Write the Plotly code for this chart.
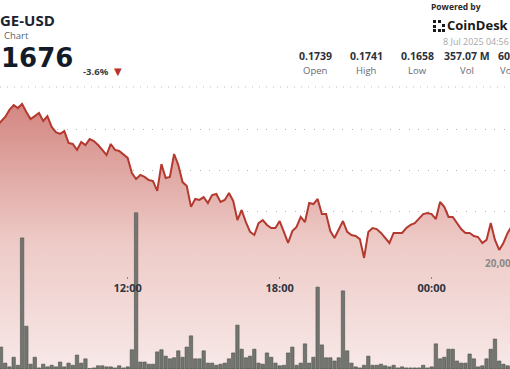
import plotly.graph_objects as go
import pandas as pd

# ---------------- data ----------------
price_start = "2025-07-07 06:50"
price_values = [
    0.17215, 0.17239, 0.17259, 0.17293, 0.17317, 0.17302, 0.17322, 0.17283, 0.17249, 0.17263,
    0.17278, 0.17239, 0.17263, 0.17210, 0.17185, 0.17176, 0.17190, 0.17132, 0.17127, 0.17098,
    0.17137, 0.17122, 0.17151, 0.17141, 0.17122, 0.17098, 0.17073, 0.17127, 0.17098, 0.17093,
    0.17078, 0.17059, 0.16985, 0.16956, 0.16976, 0.16966, 0.16951, 0.16946, 0.16898, 0.17029,
    0.16961, 0.16966, 0.17078, 0.17024, 0.16941, 0.16922, 0.16820, 0.16859, 0.16854, 0.16868,
    0.16839, 0.16878, 0.16883, 0.16844, 0.16854, 0.16888, 0.16849, 0.16756, 0.16805, 0.16746,
    0.16698, 0.16683, 0.16741, 0.16756, 0.16732, 0.16717, 0.16717, 0.16751, 0.16698, 0.16644,
    0.16702, 0.16722, 0.16771, 0.16746, 0.16839, 0.16834, 0.16859, 0.16785, 0.16785, 0.16702,
    0.16668, 0.16707, 0.16751, 0.16698, 0.16683, 0.16678, 0.16663, 0.16571, 0.16698, 0.16717,
    0.16712, 0.16693, 0.16668, 0.16644, 0.16693, 0.16693, 0.16693, 0.16717, 0.16732, 0.16741,
    0.16761, 0.16785, 0.16790, 0.16785, 0.16761, 0.16844, 0.16820, 0.16771, 0.16771, 0.16741,
    0.16712, 0.16693, 0.16693, 0.16678, 0.16673, 0.16644, 0.16659, 0.16741, 0.16659, 0.16610,
    0.16644, 0.16693, 0.16727,
]

volume_start = "2025-07-07 07:00"
volume_millions = [
    4.1, 1.1, 0.4, 2.2, 0.7, 24.5, 8.0, 0.9, 2.2, 0.2,
    0.9, 0.4, 0.7, 0.4, 1.3, 0.4, 1.1, 0.7, 2.6, 1.1,
    1.9, 0.1, 0.2, 0.6, 0.6, 0.4, 0.4, 0.2, 0.6, 0.2,
    0.4, 3.6, 29.2, 1.3, 1.3, 0.9, 0.9, 3.2, 3.6, 2.4,
    1.9, 2.1, 3.4, 2.2, 4.1, 6.2, 1.9, 1.9, 3.4, 1.1,
    1.1, 0.7, 0.9, 1.1, 1.9, 3.0, 8.2, 3.7, 2.1, 2.4,
    3.7, 1.1, 0.9, 3.0, 2.2, 1.1, 0.6, 0.7, 3.0, 4.1,
    0.7, 1.1, 4.7, 1.1, 2.2, 15.3, 4.5, 2.1, 2.1, 1.5,
    2.1, 14.6, 3.4, 1.1, 0.4, 0.2, 0.7, 2.4, 0.7, 0.7,
    0.9, 0.6, 0.4, 0.7, 0.2, 0.4, 0.2, 0.2, 0.2, 0.2,
    0.7, 0.2, 0.4, 4.7, 1.9, 2.2, 3.7, 3.7, 1.5, 1.1,
    1.1, 2.8, 1.9, 0.4, 0.6, 1.9, 3.7, 5.6, 1.5, 0.9,
    0.6, 0.4,
]

price_gridlines = [0.166, 0.168, 0.170, 0.172]
volume_gridlines = [20]
tick_times = ["2025-07-07 12:00", "2025-07-07 18:00", "2025-07-08 00:00"]

stat_values = ["0.1739", "0.1741", "0.1658", "357.07 M"]
stat_labels = ["Open", "High", "Low", "Vol"]
cut_value, cut_label = "60", "Vo"

price_times = pd.date_range(price_start, periods=len(price_values), freq="10min")
volume_times = pd.date_range(volume_start, periods=len(volume_millions), freq="10min")

# ---------------- figure ----------------
W, H = 510, 369
FONT = "Open Sans"
PLOT_TOP = 88

def py(px):
    return 1 - px / H

def pxx(px):
    return px / W

y_lo, y_hi = 0.160293, 0.1740

fig = go.Figure()

fig.add_trace(go.Scatter(
    x=price_times, y=price_values, mode="lines",
    line=dict(color="#b4392e", width=2),
    fill="tozeroy",
    fillgradient=dict(
        type="vertical",
        start=y_lo, stop=y_hi,
        colorscale=[[0, "rgba(246,230,229,0.9)"],
                    [0.45, "rgba(235,195,191,0.88)"],
                    [1, "rgba(203,112,106,0.9)"]],
    ),
    hoverinfo="skip", showlegend=False, yaxis="y",
))

fig.add_trace(go.Bar(
    x=volume_times, y=volume_millions, yaxis="y2",
    marker=dict(color="#737570", line=dict(color="#4e504c", width=0.6)),
    width=480000, hoverinfo="skip", showlegend=False,
))

dom_top = 1 - PLOT_TOP / H
grid_style = dict(showgrid=True, gridcolor="#b5b5b5", gridwidth=1, griddash="1px,8.5px",
                  zeroline=False, showticklabels=False, ticks="", showline=False,
                  automargin=False)

fig.update_layout(
    width=W, height=H,
    margin=dict(l=0, r=0, t=0, b=0, pad=0, autoexpand=False),
    paper_bgcolor="white", plot_bgcolor="white",
    bargap=0, showlegend=False,
    xaxis=dict(
        type="date",
        range=["2025-07-07 06:57:38", "2025-07-08 03:05:36"],
        tickvals=tick_times, tickformat="%H:%M",
        showgrid=False, zeroline=False, showline=False, automargin=False,
        ticks="outside", ticklen=2, tickcolor="#888", tickwidth=1,
        tickfont=dict(family=FONT, size=11, color="#2e3440", weight="bold"),
        anchor="free", position=py(276),
    ),
    yaxis=dict(range=[y_lo, y_hi], domain=[0, dom_top], tickvals=price_gridlines, **grid_style),
    yaxis2=dict(range=[0, 52.52], overlaying="y", tickvals=volume_gridlines, **grid_style),
)

ann = []
def text(t, x, y, size, color, bold=False, xanchor="left", family=FONT):
    ann.append(dict(text=t, x=pxx(x), y=py(y), xref="paper", yref="paper",
                    xanchor=xanchor, yanchor="middle", showarrow=False, borderpad=0,
                    font=dict(family=family, size=size, color=color,
                              weight="bold" if bold else "normal")))

text("GE-USD", -1, 19.5, 15, "#1c2230", bold=True)
text("Chart", 3, 35.5, 9.5, "#5a5f66")
text("1676", 0, 58, 26, "#141b28", bold=True, family="DejaVu Sans")
text("-3.6%", 82, 71, 9.5, "#3b3f45", bold=True)
text("▼", 113, 71, 10, "#b8322a", family="DejaVu Sans")
text("Powered by", 430, 7, 8.5, "#2a2a2a", bold=True)
text("CoinDesk", 446, 25, 13, "#1a1a1a", bold=True)
text("8 Jul 2025 04:56", 442, 41, 9, "#a8a8a8")

stat_centers = [315, 366, 417, 467]
for v, l, cx in zip(stat_values, stat_labels, stat_centers):
    text(v, cx, 56, 10.5, "#2d323a", bold=True, xanchor="center")
    text(l, cx, 70, 9.5, "#666b72", xanchor="center")
text(cut_value, 497, 56, 10.5, "#2d323a", bold=True)
text(cut_label, 499, 70, 9.5, "#666b72")

text("20,00", 484, 263, 10, "#8a8a8a", bold=True)

fig.update_layout(annotations=ann)

# separator and logo mark
shapes = [dict(type="line", xref="paper", yref="paper", x0=0, x1=1, y0=py(87), y1=py(87),
               line=dict(color="#bdbdbd", width=1, dash="1px,6px"))]
for (a, b) in [(433, 20), (433, 25), (433, 29), (438, 20), (442, 24), (442, 29), (438, 29)]:
    shapes.append(dict(type="rect", xref="paper", yref="paper",
                       x0=pxx(a), x1=pxx(a + 3), y0=py(b + 3), y1=py(b),
                       fillcolor="#1a1a1a", line=dict(width=0)))
fig.update_layout(shapes=shapes)

fig.write_html("out.html",
               config={"displayModeBar": False, "staticPlot": True},
               post_script="document.body.style.margin='0px';document.body.style.padding='0px';")
